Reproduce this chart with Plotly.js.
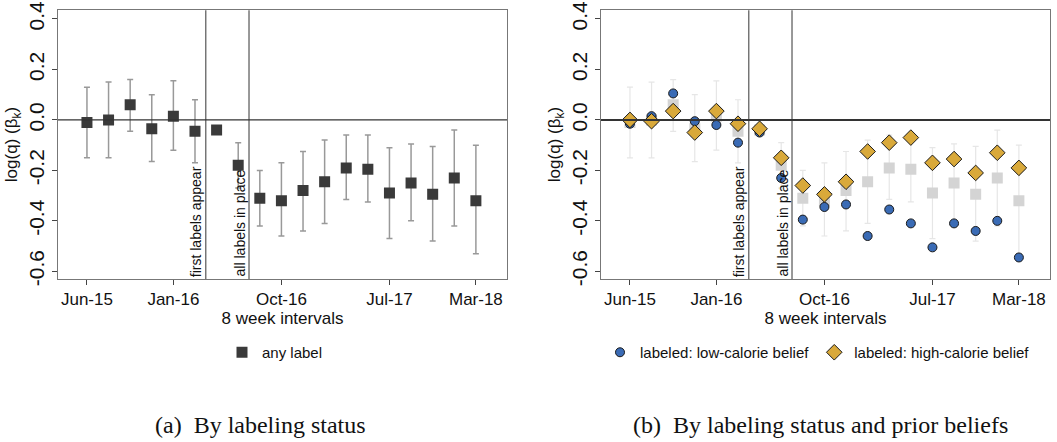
<!DOCTYPE html>
<html><head><meta charset="utf-8">
<script src="https://cdn.plot.ly/plotly-3.0.1.min.js"></script>
<style>body{margin:0;background:#fff}#plot{width:1057px;height:442px}</style>
</head><body><div id="plot"></div>
<script>
// 8-week interval index (0 = Jun-15)
const periods = [0,1,2,3,4,5,6,7,8,9,10,11,12,13,14,15,16,17,18];
const tickVals = [0, 4, 9, 14, 18];
const tickText = ['Jun-15', 'Jan-16', 'Oct-16', 'Jul-17', 'Mar-18'];

const anyLabel = [-0.01,0.0,0.06,-0.035,0.015,-0.045,-0.04,-0.18,-0.31,-0.32,-0.28,-0.245,-0.19,-0.195,-0.29,-0.25,-0.295,-0.23,-0.32];
const ciLow  = [-0.15,-0.15,-0.045,-0.165,-0.12,-0.17,null,-0.27,-0.42,-0.46,-0.44,-0.41,-0.315,-0.325,-0.47,-0.40,-0.48,-0.42,-0.53];
const ciHigh = [0.13,0.15,0.16,0.10,0.155,0.08,null,-0.09,-0.20,-0.17,-0.125,-0.08,-0.06,-0.06,-0.11,-0.095,-0.105,-0.04,-0.10];

const lowCal  = [-0.015,0.015,0.105,-0.005,-0.02,-0.09,-0.05,-0.23,-0.395,-0.345,-0.335,-0.46,-0.355,-0.41,-0.505,-0.41,-0.44,-0.40,-0.545];
const highCal = [0.0,-0.005,0.035,-0.05,0.035,-0.015,-0.035,-0.15,-0.26,-0.295,-0.245,-0.125,-0.09,-0.07,-0.17,-0.155,-0.21,-0.13,-0.19];

const errPlus = anyLabel.map((v, i) => ciHigh[i] == null ? 0 : ciHigh[i] - v);
const errMinus = anyLabel.map((v, i) => ciLow[i] == null ? 0 : v - ciLow[i]);

const traces = [
  {x: periods, y: anyLabel, xaxis: 'x', yaxis: 'y', mode: 'markers', type: 'scatter', name: 'any label',
   legend: 'legend',
   marker: {symbol: 'square', size: 11, color: '#3a3a3a'},
   error_y: {type: 'data', symmetric: false, array: errPlus, arrayminus: errMinus, color: '#999', thickness: 1.5, width: 3}},
  {x: periods, y: anyLabel, xaxis: 'x2', yaxis: 'y2', mode: 'markers', type: 'scatter', showlegend: false,
   marker: {symbol: 'square', size: 11, color: '#d4d4d4'},
   error_y: {type: 'data', symmetric: false, array: errPlus, arrayminus: errMinus, color: '#e6e6e6', thickness: 1.2, width: 3}},
  {x: periods, y: lowCal, xaxis: 'x2', yaxis: 'y2', mode: 'markers', type: 'scatter', name: 'labeled: low-calorie belief',
   legend: 'legend2',
   marker: {symbol: 'circle', size: 9, color: '#3a6bb5', line: {color: '#1a1a1a', width: 1}}},
  {x: periods, y: highCal, xaxis: 'x2', yaxis: 'y2', mode: 'markers', type: 'scatter', name: 'labeled: high-calorie belief',
   legend: 'legend2',
   marker: {symbol: 'diamond', size: 12, color: '#d9a93a', line: {color: '#1a1a1a', width: 1}}}
];

const font = {family: 'Liberation Sans, Arial, sans-serif', color: '#111'};
const xBase = {range: [-1.34, 19.44], tickvals: tickVals, ticktext: tickText, ticks: 'outside', ticklen: 5,
  showgrid: false, zeroline: false, showline: true, mirror: true, linecolor: '#777', linewidth: 1,
  tickfont: {size: 17}, title: {text: '8 week intervals', font: {size: 17}, standoff: 2}};
const yBase = {range: [-0.63, 0.435], tickvals: [-0.6,-0.4,-0.2,0,0.2,0.4], ticktext: ['-0.6','-0.4','-0.2','0.0','0.2','0.4'],
  tickangle: -90, ticks: 'outside', ticklen: 5, showgrid: false, zeroline: false, showline: true, mirror: true,
  linecolor: '#777', linewidth: 1, tickfont: {size: 21},
  title: {text: 'log(q) (β<sub>k</sub>)', font: {size: 17}, standoff: 2}, domain: [0.369, 0.977]};

function vline(xa, ya, x) {
  return {type: 'line', xref: xa, yref: ya + ' domain', x0: x, x1: x, y0: 0, y1: 1, line: {color: '#555', width: 1.2}};
}
function hline(xa, ya, w) {
  return {type: 'line', xref: xa + ' domain', yref: ya, x0: 0, x1: 1, y0: 0, y1: 0, line: {color: '#333', width: w}};
}
function vtext(xa, ya, x, t) {
  return {xref: xa, yref: ya, x: x, y: -0.63, text: t, textangle: -90, showarrow: false,
    xanchor: 'right', yanchor: 'bottom', font: {size: 14}, xshift: 1};
}

const serif = 'Liberation Serif, Times New Roman, serif';
const layout = {
  width: 1057, height: 442, margin: {l: 0, r: 0, t: 0, b: 0},
  paper_bgcolor: '#fff', plot_bgcolor: '#fff', font: font,
  xaxis: Object.assign({}, xBase, {domain: [58/1057, 507/1057], anchor: 'y'}),
  yaxis: Object.assign({}, yBase, {anchor: 'x'}),
  xaxis2: Object.assign({}, xBase, {domain: [601/1057, 1050/1057], anchor: 'y2'}),
  yaxis2: Object.assign({}, yBase, {anchor: 'x2'}),
  shapes: [vline('x', 'y', 5.5), vline('x', 'y', 7.5), hline('x', 'y', 1.2),
           vline('x2', 'y2', 5.5), vline('x2', 'y2', 7.5), hline('x2', 'y2', 2)],
  annotations: [
    vtext('x', 'y', 5.5, 'first labels appear'), vtext('x', 'y', 7.5, 'all labels in place'),
    vtext('x2', 'y2', 5.5, 'first labels appear'), vtext('x2', 'y2', 7.5, 'all labels in place'),
    {xref: 'paper', yref: 'paper', x: 260/1057, y: 1 - 425/442, text: '(a)  By labeling status', showarrow: false,
     xanchor: 'center', yanchor: 'middle', font: {family: serif, size: 24}},
    {xref: 'paper', yref: 'paper', x: 820/1057, y: 1 - 425/442, text: '(b)  By labeling status and prior beliefs', showarrow: false,
     xanchor: 'center', yanchor: 'middle', font: {family: serif, size: 24}}
  ],
  legend: {orientation: 'h', x: 222/1057, y: 1 - 336/442, xanchor: 'left', yanchor: 'top', font: {size: 15},
    bgcolor: 'rgba(0,0,0,0)'},
  legend2: {orientation: 'h', x: 600/1057, y: 1 - 336/442, xanchor: 'left', yanchor: 'top', font: {size: 15},
    bgcolor: 'rgba(0,0,0,0)', itemwidth: 30}
};

Plotly.newPlot('plot', traces, layout, {displayModeBar: false, staticPlot: true});
</script></body></html>
